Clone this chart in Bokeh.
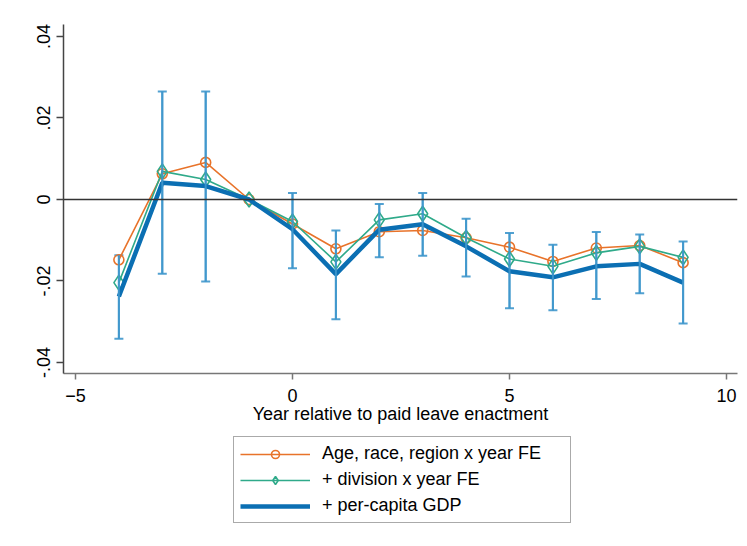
import math
from bokeh.plotting import figure
from bokeh.layouts import column
from bokeh.models import Span, Legend, LegendItem, Range1d, FixedTicker, Whisker, ColumnDataSource
from bokeh.embed import file_html
from bokeh.resources import INLINE

years = [-4, -3, -2, -1, 0, 1, 2, 3, 4, 5, 6, 7, 8, 9]
est_base = [-0.0148, 0.0063, 0.0091, 0.0, -0.0060, -0.0121, -0.0079, -0.0076, -0.0094, -0.0117, -0.0152, -0.0119, -0.0113, -0.0155]
est_div = [-0.0204, 0.0069, 0.0049, 0.0, -0.0054, -0.0153, -0.0050, -0.0035, -0.0094, -0.0146, -0.0164, -0.0131, -0.0115, -0.0142]
est_gdp = [-0.0238, 0.0041, 0.0033, 0.0, -0.0073, -0.0183, -0.0074, -0.0061, -0.0115, -0.0176, -0.0191, -0.0164, -0.0158, -0.0204]
ci_years = [-4, -3, -2, 0, 1, 2, 3, 4, 5, 6, 7, 8, 9]
ci_upper = [-0.0137, 0.0265, 0.0265, 0.0016, -0.0076, -0.0011, 0.0016, -0.0047, -0.0082, -0.0111, -0.0080, -0.0086, -0.0103]
ci_lower = [-0.0342, -0.0182, -0.0201, -0.0169, -0.0294, -0.0142, -0.0138, -0.0189, -0.0267, -0.0272, -0.0244, -0.0230, -0.0304]

x_ticks = [-5, 0, 5, 10]
y_ticks = [-0.04, -0.02, 0, 0.02, 0.04]
y_tick_labels = ["-.04", "-.02", "0", ".02", ".04"]
x_title = "Year relative to paid leave enactment"
labels = ["Age, race, region x year FE", "+ division x year FE", "+ per-capita GDP"]

C_OR = "#e8732a"
C_GR = "#2faa8a"
C_BL = "#0b6fb3"
C_CI = "#3f97cc"
FONT = "Liberation Sans"
FS = "18px"

p = figure(width=739, height=428, output_backend="svg", toolbar_location=None,
           x_range=Range1d(-5.276, 10.253), y_range=Range1d(-0.0427, 0.04294),
           min_border_left=63, min_border_right=2, min_border_top=24, min_border_bottom=55)
p.outline_line_color = None
p.xgrid.visible = False
p.ygrid.visible = False
p.background_fill_color = "white"
p.border_fill_color = "white"

zero = Span(location=0, dimension="width", line_color="#333333", line_width=1.5)
p.add_layout(zero)

p.line(years, est_base, line_color=C_OR, line_width=1.6)
p.scatter(years, est_base, marker="circle", size=10, line_color=C_OR, fill_color=None, line_width=1.6)
p.line(years, est_div, line_color=C_GR, line_width=1.6)
p.scatter(years, est_div, marker="diamond", size=15, line_color=C_GR, fill_color=None, line_width=1.6)
p.line(years, est_gdp, line_color=C_BL, line_width=4.5)

ci_src = ColumnDataSource(dict(x=ci_years, lo=ci_lower, hi=ci_upper))
p.segment(x0="x", y0="lo", x1="x", y1="hi", source=ci_src, line_color=C_CI, line_width=2, line_alpha=0.9)
w = Whisker(base="x", upper="hi", lower="lo", source=ci_src, dimension="height",
            line_color=C_CI, line_width=2, line_alpha=0.9)
for h in (w.upper_head, w.lower_head):
    h.size = 9
    h.line_color = C_CI
    h.line_width = 2
    h.line_alpha = 0.9
p.add_layout(w)

xa = p.xaxis[0]
xa.ticker = FixedTicker(ticks=x_ticks)
xa.axis_label = x_title
xa.axis_label_text_font = FONT
xa.axis_label_text_font_size = FS
xa.axis_label_text_font_style = "normal"
xa.axis_label_text_color = "black"
xa.axis_label_standoff = -1
xa.major_label_text_font = FONT
xa.major_label_text_font_size = FS
xa.major_label_text_color = "black"
xa.major_label_standoff = 9
xa.axis_line_color = "#777777"
xa.axis_line_width = 1.5
xa.major_tick_line_color = "#777777"
xa.major_tick_line_width = 1.5
xa.major_tick_out = 6
xa.major_tick_in = 0
xa.minor_tick_line_color = None

ya = p.yaxis[0]
ya.ticker = FixedTicker(ticks=y_ticks)
ya.major_label_overrides = {t: l for t, l in zip(y_ticks, y_tick_labels)}
ya.major_label_orientation = "vertical"
ya.major_label_text_font = FONT
ya.major_label_text_font_size = FS
ya.major_label_text_color = "black"
ya.major_label_standoff = 6
ya.axis_line_color = "#444444"
ya.axis_line_width = 1.5
ya.major_tick_line_color = "#444444"
ya.major_tick_line_width = 1.5
ya.major_tick_out = 7
ya.major_tick_in = 0
ya.minor_tick_line_color = None

# legend panel below the chart
p2 = figure(width=739, height=110, output_backend="svg", toolbar_location=None,
            x_range=Range1d(0, 1), y_range=Range1d(0, 1), x_axis_type=None, y_axis_type=None,
            min_border_left=0, min_border_right=0, min_border_top=0, min_border_bottom=0)
p2.outline_line_color = None
p2.xgrid.visible = False
p2.ygrid.visible = False
p2.background_fill_color = "white"
p2.border_fill_color = "white"
nan = [math.nan]
l_or = p2.line(nan, nan, line_color=C_OR, line_width=1.6)
m_or = p2.scatter(nan, nan, marker="circle", size=9, line_color=C_OR, fill_color=None, line_width=1.6)
l_gr = p2.line(nan, nan, line_color=C_GR, line_width=1.6)
m_gr = p2.scatter(nan, nan, marker="diamond", size=14, line_color=C_GR, fill_color=None, line_width=1.6)
l_bl = p2.line(nan, nan, line_color=C_BL, line_width=4.5)

legend = Legend(items=[
    LegendItem(label=labels[0], renderers=[l_or, m_or]),
    LegendItem(label=labels[1], renderers=[l_gr, m_gr]),
    LegendItem(label=labels[2], renderers=[l_bl]),
], location=(170, 15), orientation="vertical")
legend.label_text_font = FONT
legend.label_text_font_size = FS
legend.label_text_color = "black"
legend.glyph_width = 70
legend.glyph_height = 20
legend.label_height = 20
legend.spacing = 5
legend.padding = 6
legend.label_standoff = 12
legend.label_width = 242
legend.border_line_color = "#555555"
legend.border_line_width = 1.5
legend.background_fill_color = "white"
legend.margin = 0
p2.add_layout(legend, "center")

layout = column(p, p2, spacing=0)
open("out.html", "w").write(file_html(layout, INLINE))
